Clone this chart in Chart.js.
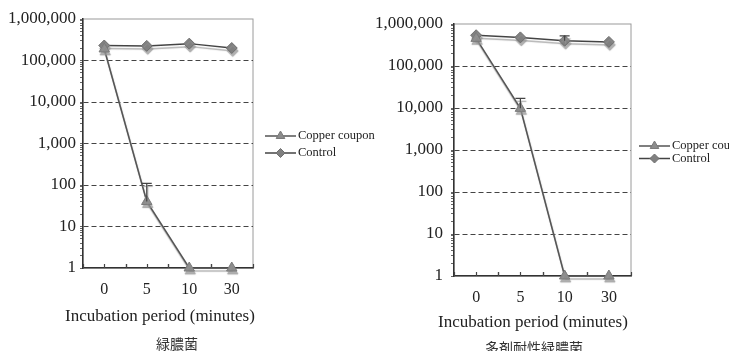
<!DOCTYPE html>
<html>
<head>
<meta charset="utf-8">
<script src="https://cdn.jsdelivr.net/npm/chart.js@4.4.1/dist/chart.umd.min.js"></script>
<style>
  body { margin: 0; background: #fff; }
  #wrap { position: relative; width: 729px; height: 351px; overflow: hidden; background: #fff; }
  canvas { position: absolute; top: 0; }
  .cap { position: absolute; font-family: "Noto Sans CJK JP", sans-serif; font-size: 14px; line-height: 14px;
         color: #333; transform: translate(-50%, -50%); white-space: nowrap; }
</style>
</head>
<body>
<div id="wrap">
  <canvas id="leftChart" width="400" height="351" style="left:0"></canvas>
  <canvas id="rightChart" width="359" height="351" style="left:370px"></canvas>
  <div class="cap" style="left:177px; top:343px">緑膿菌</div>
  <div class="cap" style="left:534px; top:347px">多剤耐性緑膿菌</div>
</div>
<script>
const minutes = ["0", "5", "10", "30"];
const yTickValues = [1, 10, 100, 1000, 10000, 100000, 1000000];
const xTitle = "Incubation period (minutes)";

// 緑膿菌
const leftCopper = [190000, 40, 1, 1];
const leftControl = [230000, 225000, 255000, 200000];
const leftCopperErr = [null, 110, null, null];
const leftControlErr = [null, null, null, null];

// 多剤耐性緑膿菌
const rightCopper = [455000, 9800, 1, 1];
const rightControl = [540000, 480000, 400000, 375000];
const rightCopperErr = [null, 17000, null, null];
const rightControlErr = [null, null, 520000, null];

const serif = '"Liberation Serif", "Times New Roman", serif';

// grey box round the plot area (axis lines are drawn over it)
const frameBox = {
    id: 'frameBox',
    beforeDraw(chart) {
        const a = chart.chartArea, ctx = chart.ctx;
        ctx.save();
        ctx.strokeStyle = '#9a9a9a';
        ctx.lineWidth = 1;
        ctx.strokeRect(a.left, a.top, a.right - a.left, a.bottom - a.top);
        ctx.restore();
    }
};

// small tick marks pointing up from the x axis
const xTickMarks = {
    id: 'xTickMarks',
    beforeDatasetsDraw(chart) {
        const x = chart.scales.x, ctx = chart.ctx, b = chart.chartArea.bottom;
        const step = x.getPixelForValue(1) - x.getPixelForValue(0);
        ctx.save();
        ctx.strokeStyle = '#444';
        ctx.lineWidth = 1.2;
        for (let i = 0; i < minutes.length; i++) {
            [-0.5, 0, 0.5].forEach(f => {
                const px = Math.round(x.getPixelForValue(i) + f * step) + 0.5;
                ctx.beginPath();
                ctx.moveTo(px, b);
                ctx.lineTo(px, b - 4);
                ctx.stroke();
            });
        }
        ctx.restore();
    }
};

// excel style drop shadow on the series + upper error bars
const shadowAndErrors = {
    id: 'shadowAndErrors',
    beforeDatasetsDraw(chart) {
        const ctx = chart.ctx;
        ctx.save();
        ctx.shadowColor = 'rgba(150,150,150,0.75)';
        ctx.shadowOffsetX = 1;
        ctx.shadowOffsetY = 3;
        ctx.shadowBlur = 1;
    },
    afterDatasetsDraw(chart) {
        const ctx = chart.ctx, x = chart.scales.x, y = chart.scales.y;
        chart.data.datasets.forEach(ds => {
            (ds.errHigh || []).forEach((hi, i) => {
                if (hi == null) return;
                const px = x.getPixelForValue(i);
                const top = y.getPixelForValue(hi);
                const base = y.getPixelForValue(ds.data[i]);
                ctx.strokeStyle = '#444';
                ctx.lineWidth = 1.2;
                ctx.beginPath();
                ctx.moveTo(px, base);
                ctx.lineTo(px, top);
                ctx.moveTo(px - 5, top);
                ctx.lineTo(px + 5, top);
                ctx.stroke();
            });
        });
        ctx.restore();
    }
};

// x axis title, sits a little left of the plot centre in the original
const axisTitle = {
    id: 'axisTitle',
    afterDraw(chart, args, opts) {
        const ctx = chart.ctx;
        ctx.save();
        ctx.fillStyle = '#222';
        ctx.font = '17px ' + serif;
        ctx.textAlign = 'center';
        ctx.textBaseline = 'middle';
        ctx.fillText(xTitle, opts.x, opts.y);
        ctx.restore();
    }
};

// legend with line + marker samples
const lineLegend = {
    id: 'lineLegend',
    afterDraw(chart, args, opts) {
        const ctx = chart.ctx;
        chart.data.datasets.forEach((ds, i) => {
            const y = opts.y + i * opts.gap;
            ctx.save();
            ctx.strokeStyle = ds.borderColor;
            ctx.lineWidth = 1.5;
            ctx.beginPath();
            ctx.moveTo(opts.x, y);
            ctx.lineTo(opts.x + opts.len, y);
            ctx.stroke();
            ctx.fillStyle = ds.pointBackgroundColor;
            ctx.strokeStyle = ds.pointBorderColor;
            ctx.lineWidth = 1;
            Chart.helpers.drawPoint(ctx, { pointStyle: ds.pointStyle, radius: ds.pointRadius - 1, rotation: 0, borderWidth: 1 },
                opts.x + opts.len / 2, y);
            ctx.fillStyle = '#222';
            ctx.font = '12.5px ' + serif;
            ctx.textBaseline = 'middle';
            ctx.textAlign = 'left';
            ctx.fillText(ds.label, opts.x + opts.len + 2, y);
            ctx.restore();
        });
    }
};

function isInnerDecade(v) {
    return v > 1 && v < 1000000 && yTickValues.includes(v);
}

function buildChart(id, copper, control, copperErr, controlErr, lay) {
    return new Chart(document.getElementById(id), {
        type: 'line',
        data: {
            labels: minutes,
            datasets: [{
                label: 'Copper coupon',
                data: copper,
                errHigh: copperErr,
                borderColor: '#555',
                borderWidth: 1.5,
                pointStyle: 'triangle',
                pointRadius: 6,
                pointBackgroundColor: '#8c8c8c',
                pointBorderColor: '#7a7a7a',
                pointBorderWidth: 1,
                clip: false
            }, {
                label: 'Control',
                data: control,
                errHigh: controlErr,
                borderColor: '#444',
                borderWidth: 1.5,
                pointStyle: 'rectRot',
                pointRadius: 5.5,
                pointBackgroundColor: '#808080',
                pointBorderColor: '#6e6e6e',
                pointBorderWidth: 1,
                clip: false
            }]
        },
        options: {
            responsive: false,
            animation: false,
            devicePixelRatio: 1,
            layout: { padding: { top: lay.top, right: lay.right, bottom: 0, left: 0 } },
            plugins: {
                legend: { display: false },
                tooltip: { enabled: false },
                lineLegend: { x: lay.legX, y: lay.legY, gap: lay.legGap, len: 31 },
                axisTitle: { x: lay.titleX, y: lay.titleY }
            },
            scales: {
                x: {
                    offset: true,
                    grid: { display: false, drawTicks: false, offset: true },
                    border: { color: '#333', width: 1.5 },
                    ticks: { color: '#222', font: { family: serif, size: 16 }, padding: lay.xPad, maxRotation: 0 },
                    afterFit(s) { s.height = lay.xHeight; }
                },
                y: {
                    type: 'logarithmic',
                    min: 1,
                    max: 1000000,
                    afterBuildTicks(s) {
                        const t = [];
                        for (let d = 1; d < 1000000; d *= 10) {
                            for (let m = 1; m < 10; m++) t.push({ value: d * m });
                        }
                        t.push({ value: 1000000 });
                        s.ticks = t;
                    },
                    grid: {
                        color: c => (c.tick && isInnerDecade(c.tick.value)) ? '#444' : 'rgba(0,0,0,0)',
                        tickColor: '#666',
                        tickLength: 3
                    },
                    border: { color: '#333', width: 1.5, dash: [5, 3] },
                    ticks: {
                        autoSkip: false,
                        color: '#222',
                        font: { family: serif, size: 17 },
                        padding: lay.yPad,
                        callback: v => yTickValues.includes(v) ? v.toLocaleString('en-US') : ''
                    },
                    afterFit(s) { s.width = lay.yWidth; }
                }
            }
        },
        plugins: [frameBox, xTickMarks, shadowAndErrors, axisTitle, lineLegend]
    });
}

buildChart('leftChart', leftCopper, leftControl, leftCopperErr, leftControlErr, {
    top: 19, right: 147, yWidth: 83, yPad: 4, xHeight: 83, xPad: 12,
    titleX: 160, titleY: 317, legX: 265, legY: 136, legGap: 17
});

buildChart('rightChart', rightCopper, rightControl, rightCopperErr, rightControlErr, {
    top: 24, right: 98, yWidth: 84, yPad: 8, xHeight: 75, xPad: 12,
    titleX: 163, titleY: 323, legX: 269, legY: 146, legGap: 12.5
});
</script>
</body>
</html>
